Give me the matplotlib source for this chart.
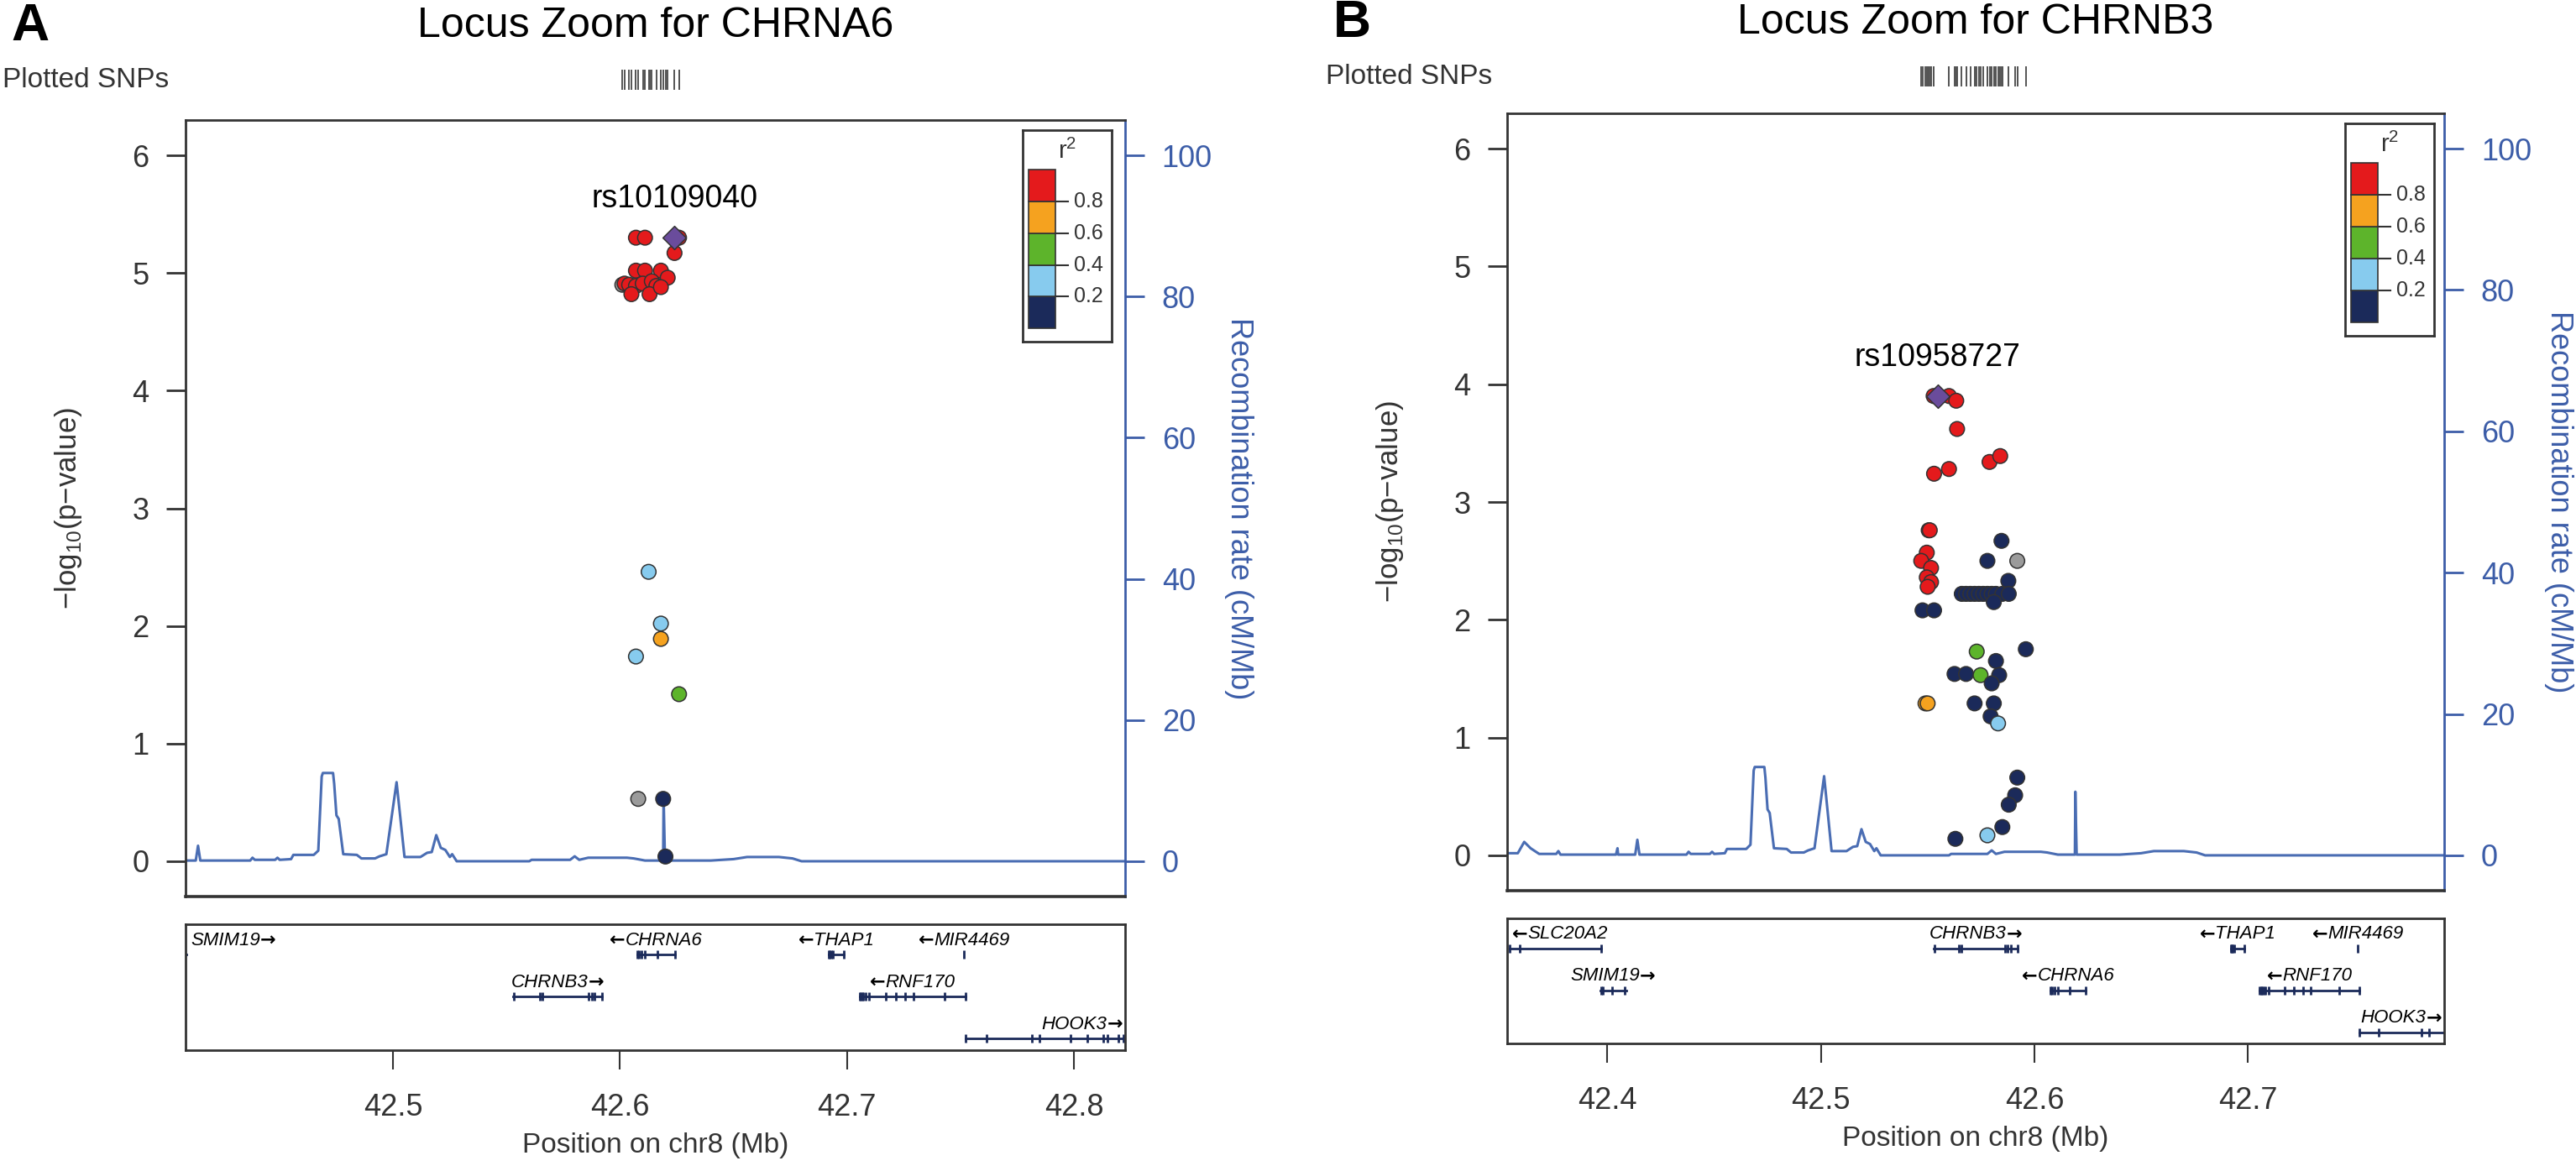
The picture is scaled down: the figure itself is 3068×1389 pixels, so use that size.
import matplotlib.pyplot as plt
from matplotlib.patches import Rectangle
import numpy as np

plt.rcParams['font.family'] = ['Liberation Sans', 'DejaVu Sans']
plt.rcParams['mathtext.fontset'] = 'custom'
plt.rcParams['mathtext.rm'] = 'Liberation Sans'

# ---------------- data ----------------
r2_edges = [0.2, 0.4, 0.6, 0.8]
r2_colors = ['#1B2A5A', '#87CBEE', '#5DB42B', '#F5A21F', '#E41A1C']
na_color = '#9B9B9B'
lead_color = '#6A4C9C'
recomb_color = '#4A6DB3'
axis_blue = '#3C5DA8'

# recombination rate (cM/Mb) along chr8
recomb_pos = [42.353, 42.358, 42.361, 42.364, 42.368, 42.376, 42.377, 42.378, 42.395,
              42.404, 42.4047, 42.405, 42.413, 42.414, 42.415, 42.425, 42.437, 42.438,
              42.439, 42.448, 42.449, 42.450, 42.455, 42.456, 42.465, 42.467, 42.4685,
              42.469, 42.4735, 42.474, 42.475, 42.476, 42.478, 42.484, 42.486, 42.492,
              42.494, 42.497, 42.5015, 42.505, 42.512, 42.515, 42.517, 42.519, 42.521,
              42.523, 42.525, 42.526, 42.528, 42.560, 42.561, 42.578, 42.580, 42.582,
              42.586, 42.590, 42.603, 42.606, 42.611, 42.619, 42.6192, 42.6198, 42.640,
              42.650, 42.656, 42.670, 42.676, 42.680, 42.830]
recomb_rate = [0.3, 0.3, 1.9, 1.0, 0.2, 0.2, 0.6, 0.1, 0.1,
               0.1, 1.0, 0.1, 0.1, 2.2, 0.1, 0.1, 0.1, 0.5,
               0.2, 0.2, 0.5, 0.2, 0.3, 0.9, 0.9, 1.5, 12.0,
               12.5, 12.5, 11.0, 6.5, 6.0, 1.0, 0.9, 0.4, 0.4,
               0.7, 1.0, 11.2, 0.6, 0.6, 1.2, 1.3, 3.7, 1.9,
               1.6, 0.6, 1.0, 0.0, 0.0, 0.2, 0.2, 0.7, 0.2,
               0.5, 0.5, 0.5, 0.4, 0.1, 0.1, 9.0, 0.1, 0.1,
               0.3, 0.6, 0.6, 0.4, 0.0, 0.0]

# genes
gene_names = ['SLC20A2', 'SMIM19', 'CHRNB3', 'CHRNA6', 'THAP1', 'RNF170', 'MIR4469', 'HOOK3']
gene_start = [42.354, 42.3965, 42.553, 42.6076, 42.692, 42.7056, 42.7515, 42.7522]
gene_end = [42.397, 42.4087, 42.592, 42.6241, 42.6985, 42.7522, 42.7516, 42.880]
gene_strand = ['-', '+', '+', '-', '-', '-', '-', '+']
gene_exons = [
    [42.354, 42.359, 42.397],
    [42.3969, 42.398, 42.402, 42.408],
    [42.5531, 42.5648, 42.5659, 42.5863, 42.5875, 42.5889, 42.592],
    [42.6076, 42.6084, 42.6096, 42.6111, 42.6166, 42.6241],
    [42.692, 42.6925, 42.693, 42.6937, 42.6985],
    [42.7056, 42.7061, 42.7067, 42.7073, 42.7081, 42.7099, 42.7173, 42.7215, 42.7258,
     42.7294, 42.743, 42.7522],
    [42.7515],
    [42.7522, 42.7615, 42.7815, 42.7848, 42.7985, 42.806, 42.813, 42.8148, 42.8196,
     42.8219, 42.8235],
]
a_gene_rows = [0, 0, 1, 0, 0, 1, 0, 2]
b_gene_rows = [0, 1, 0, 1, 0, 1, 0, 2]

# panel A: CHRNA6
a_pos = [42.607, 42.611, 42.626, 42.624, 42.601, 42.607, 42.611, 42.618, 42.621, 42.602,
         42.604, 42.607, 42.610, 42.614, 42.616, 42.605, 42.613, 42.618,
         42.6126, 42.618, 42.618, 42.607, 42.626, 42.608, 42.619, 42.620]
a_logp = [5.30, 5.30, 5.30, 5.17, 4.90, 5.02, 5.02, 5.02, 4.96, 4.91,
          4.90, 4.89, 4.91, 4.93, 4.89, 4.82, 4.82, 4.88,
          2.46, 2.02, 1.89, 1.74, 1.42, 0.53, 0.53, 0.04]
a_r2 = [0.9, 0.9, 0.9, 0.9, np.nan, 0.9, 0.9, 0.9, 0.9, 0.9,
        0.9, 0.9, 0.9, 0.9, 0.9, 0.9, 0.9, 0.9,
        0.3, 0.3, 0.7, 0.3, 0.5, np.nan, 0.1, 0.1]
a_lead_name, a_lead_pos, a_lead_logp = 'rs10109040', 42.624, 5.30

# panel B: CHRNB3
b_pos = [42.5528, 42.560, 42.5634, 42.5638, 42.579, 42.584, 42.553, 42.560, 42.5505, 42.551,
         42.5496, 42.547, 42.5516, 42.5496, 42.5516, 42.550,
         42.5846, 42.578, 42.592, 42.5878,
         42.566, 42.568, 42.570, 42.572, 42.574, 42.576, 42.578, 42.580, 42.582, 42.585, 42.588,
         42.581, 42.5476, 42.553, 42.573, 42.596, 42.582, 42.5626, 42.568, 42.5748, 42.5835,
         42.580, 42.549, 42.550, 42.572, 42.581, 42.5795, 42.583,
         42.592, 42.591, 42.588, 42.585, 42.578, 42.563]
b_logp = [3.90, 3.90, 3.86, 3.62, 3.34, 3.39, 3.24, 3.28, 2.76, 2.76,
          2.57, 2.50, 2.44, 2.36, 2.32, 2.28,
          2.67, 2.50, 2.50, 2.33,
          2.22, 2.22, 2.22, 2.22, 2.22, 2.22, 2.22, 2.22, 2.22, 2.22, 2.22,
          2.15, 2.08, 2.08, 1.73, 1.75, 1.65, 1.54, 1.54, 1.53, 1.53,
          1.46, 1.29, 1.29, 1.29, 1.29, 1.18, 1.12,
          0.66, 0.51, 0.43, 0.24, 0.17, 0.14]
b_r2 = [0.9, 0.9, 0.9, 0.9, 0.9, 0.9, 0.9, 0.9, 0.9, 0.9,
        0.9, 0.9, 0.9, 0.9, 0.9, 0.9,
        0.1, 0.1, np.nan, 0.1,
        0.1, 0.1, 0.1, 0.1, 0.1, 0.1, 0.1, 0.1, 0.1, 0.1, 0.1,
        0.1, 0.1, 0.1, 0.5, 0.1, 0.1, 0.1, 0.1, 0.5, 0.1,
        0.1, 0.7, 0.7, 0.1, 0.1, 0.1, 0.3,
        0.1, 0.1, 0.1, 0.1, 0.3, 0.1]
b_lead_name, b_lead_pos, b_lead_logp = 'rs10958727', 42.5547, 3.90

# ---------------- drawing ----------------
W, H = 3068, 1389
fig = plt.figure(figsize=(W / 100, H / 100), dpi=100)
renderer = fig.canvas.get_renderer()
dark = '#333333'
gene_blue = '#1B2A5A'


def box(l, t, r, b):
    return [l / W, 1 - b / H, (r - l) / W, (b - t) / H]


def r2_color(v):
    if np.isnan(v):
        return na_color
    return r2_colors[int(np.searchsorted(r2_edges, v))]


def gene_label(axg, g0, g1, y, name, strand):
    # gene name in italics plus a heavier arrow for the strand
    t_name = axg.text(0, y, name, fontsize=16, style='italic', ha='left', va='center')
    t_arr = axg.text(0, y, '→' if strand == '+' else '←', fontsize=16, family='DejaVu Sans',
                     fontweight='bold', ha='left', va='center')
    wn = t_name.get_window_extent(renderer).width
    wa = t_arr.get_window_extent(renderer).width
    bb = axg.get_window_extent(renderer)
    cx = axg.transData.transform(((g0 + g1) / 2, 0))[0]
    x0 = cx - (wn + wa) / 2
    x0 = max(x0, bb.x0 + 6)
    x0 = min(x0, bb.x1 - 3 - (wn + wa))
    inv = axg.transData.inverted()
    if strand == '+':
        t_name.set_x(inv.transform((x0, 0))[0])
        t_arr.set_x(inv.transform((x0 + wn, 0))[0])
    else:
        t_arr.set_x(inv.transform((x0, 0))[0])
        t_name.set_x(inv.transform((x0 + wa, 0))[0])


def panel(l, r, top, bottom, gtop, gbottom, xlim, pos, logp, r2,
          lead_name, lead_pos, lead_logp, rows, letter, title, title_y, snp_x, leg):
    # rug of plotted SNPs
    fig.text(snp_x / W, 1 - (title_y + 64) / H, 'Plotted SNPs', fontsize=24, color=dark,
             ha='left', va='center')
    ax_rug = fig.add_axes(box(l, title_y + 52, r, title_y + 76))
    ax_rug.vlines(pos, 0, 1, color='#555555', lw=1.4)
    ax_rug.set_xlim(xlim)
    ax_rug.set_ylim(0, 1)
    ax_rug.axis('off')

    fig.text((l + r) / 2 / W, 1 - title_y / H, title, fontsize=36, ha='center', va='center')
    fig.text((l - 185) / W, 1 - title_y / H, letter, fontsize=45, fontweight='bold',
             ha='center', va='center')

    ax = fig.add_axes(box(l, top, r, bottom))
    ax2 = ax.twinx()
    ax.set_zorder(ax2.get_zorder() + 1)
    ax.patch.set_visible(False)

    ax2.plot(recomb_pos, recomb_rate, color=recomb_color, lw=2.2)
    ax2.set_ylim(-5, 105)
    ax2.set_yticks(range(0, 101, 20))
    ax2.tick_params(axis='y', length=16.5, width=2, labelsize=26, pad=15,
                    colors=axis_blue)
    ax2.spines['right'].set_color(axis_blue)
    ax2.spines['right'].set_linewidth(2)
    for s in ['top', 'left', 'bottom']:
        ax2.spines[s].set_visible(False)

    cols = [r2_color(v) for v in r2]
    ax.scatter(pos, logp, s=160, c=cols, edgecolors=dark, linewidths=1.1, zorder=3)
    ax.scatter([lead_pos], [lead_logp], s=200, marker='D', c=lead_color,
               edgecolors=dark, linewidths=1.1, zorder=4)
    ax.text(lead_pos, lead_logp + 0.2, lead_name, fontsize=27, ha='center', va='bottom')

    ax.set_xlim(xlim)
    ax.set_ylim(-0.3, 6.3)
    ax.set_xticks([])
    ax.set_yticks(range(7))
    ax.tick_params(axis='y', length=16.5, width=2, labelsize=26, pad=15, colors=dark)
    for s in ['top', 'left', 'bottom']:
        ax.spines[s].set_color(dark)
        ax.spines[s].set_linewidth(2)
    ax.spines['bottom'].set_linewidth(2.6)
    ax.spines['right'].set_visible(False)

    fig.text((l - 139) / W, 1 - (top + bottom) / 2 / H, '−log$_{10}$(p−value)',
             fontsize=25, rotation=90, ha='center', va='center', color=dark)
    fig.text((r + 136) / W, 1 - (top + bottom) / 2 / H, 'Recombination rate (cM/Mb)',
             fontsize=26, rotation=270, ha='center', va='center', color=axis_blue)

    # r2 legend
    axl = fig.add_axes(box(*leg))
    axl.set_xlim(0, 1)
    axl.set_ylim(0, 1)
    axl.set_xticks([])
    axl.set_yticks([])
    for s in axl.spines.values():
        s.set_linewidth(2)
        s.set_color(dark)
    y0, y1 = 0.063, 0.813
    step = (y1 - y0) / len(r2_colors)
    for i, c in enumerate(r2_colors):
        axl.add_patch(Rectangle((0.066, y0 + i * step), 0.30, step, facecolor=c,
                                edgecolor=dark, lw=1.2))
    for i, e in enumerate(r2_edges):
        yy = y0 + (i + 1) * step
        axl.plot([0.366, 0.51], [yy, yy], color=dark, lw=1.5)
        axl.text(0.58, yy, f'{e:.1f}', fontsize=18, va='center', ha='left', color=dark)
    axl.text(0.5, 0.9, 'r$^2$', fontsize=21, ha='center', va='center', color=dark)

    # gene track
    axg = fig.add_axes(box(l, gtop, r, gbottom))
    axg.set_xlim(xlim)
    axg.set_ylim(gbottom - gtop, 0)
    ticks = np.arange(np.ceil(xlim[0] * 10) / 10, xlim[1], 0.1)
    axg.set_xticks(ticks)
    axg.set_xticklabels([f'{t:.1f}' for t in ticks])
    axg.set_yticks([])
    axg.tick_params(axis='x', length=16.5, width=1.5, labelsize=26, pad=20, colors=dark)
    for s in axg.spines.values():
        s.set_linewidth(2)
        s.set_color(dark)
    fig.text((l + r) / 2 / W, 1 - (gbottom + 113) / H, 'Position on chr8 (Mb)',
             fontsize=24, ha='center', va='center', color=dark)

    for name, g0, g1, st, ex, row in zip(gene_names, gene_start, gene_end, gene_strand,
                                         gene_exons, rows):
        if g1 < xlim[0] or g0 > xlim[1]:
            continue
        yl = 36 + 50 * row
        axg.plot([g0, g1], [yl, yl], color=gene_blue, lw=2)
        axg.vlines(ex, yl - 5, yl + 5, color=gene_blue, lw=2)
        gene_label(axg, g0, g1, yl - 17, name, st)


panel(221, 1340, 143, 1068, 1101, 1251, (42.4085, 42.8226), a_pos, a_logp, a_r2,
      a_lead_name, a_lead_pos, a_lead_logp, a_gene_rows, 'A', 'Locus Zoom for CHRNA6', 31,
      3, (1218, 155, 1324, 407))
panel(1795, 2911, 135, 1061, 1094, 1243, (42.353, 42.792), b_pos, b_logp, b_r2,
      b_lead_name, b_lead_pos, b_lead_logp, b_gene_rows, 'B', 'Locus Zoom for CHRNB3', 27,
      1579, (2793, 147, 2899, 400))

fig.savefig('out.png', dpi=100, facecolor='white')
